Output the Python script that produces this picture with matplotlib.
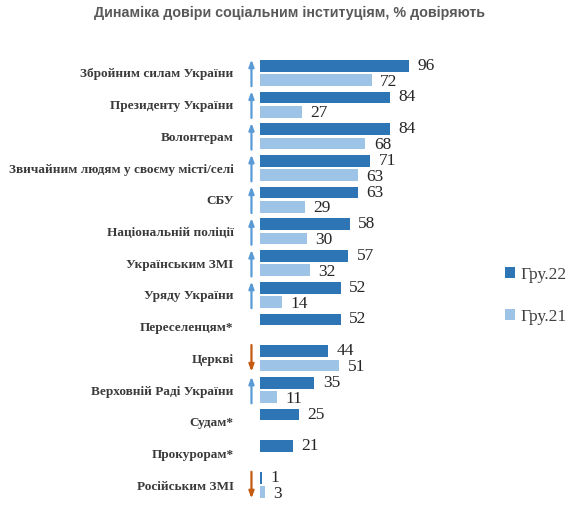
import matplotlib
matplotlib.use("Agg")
import matplotlib.pyplot as plt
from matplotlib.transforms import blended_transform_factory

categories = ["Збройним силам України", "Президенту України", "Волонтерам",
              "Звичайним людям у своєму місті/селі", "СБУ", "Національній поліції",
              "Українським ЗМІ", "Уряду України", "Переселенцям*", "Церкві",
              "Верховній Раді України", "Судам*", "Прокурорам*", "Російським ЗМІ"]
feb22 = [96, 84, 84, 71, 63, 58, 57, 52, 52, 44, 35, 25, 21, 1]
feb21 = [72, 27, 68, 63, 29, 30, 32, 14, None, 51, 11, None, None, 3]
trend = ["up", "up", "up", "up", "up", "up", "up", "up", None, "down", "up", None, None, "down"]
series_names = ["Гру.22", "Гру.21"]
title = "Динаміка довіри соціальним інституціям, % довіряють"

c22 = "#2e75b6"
c21 = "#9dc3e6"
up_c = "#5b9bd5"
down_c = "#c55a11"
serif = "Liberation Serif"

fig = plt.figure(figsize=(5.76, 5.13), dpi=100)
ax = fig.add_axes([260/576, 1-501/513, 155/576, 444/513])
ax.set_xlim(0, 100)
ax.set_ylim(len(categories) - 0.5, -0.5)

off = 0.225
h = 0.37
h22 = None
h21 = None
for i, (a, b) in enumerate(zip(feb22, feb21)):
    r = ax.barh(i - off, a, height=h, color=c22)
    h22 = r
    ax.text(a + 5.5, i - off, str(a), va="center", ha="left", fontsize=12.5,
            family=serif, color="#262626")
    if b is not None:
        r2 = ax.barh(i + off, b, height=h, color=c21)
        h21 = r2
        ax.text(b + 5.5, i + off + 0.05, str(b), va="center", ha="left", fontsize=12.5,
                family=serif, color="#262626")

trans = blended_transform_factory(ax.transAxes, ax.transData)
for i, t in enumerate(trend):
    if t is None:
        continue
    if t == "up":
        start, end, col = i + 0.42, i - 0.42, up_c
    else:
        start, end, col = i - 0.42, i + 0.42, down_c
    ax.annotate("", xy=(-0.055, end), xytext=(-0.055, start),
                xycoords=trans, textcoords=trans,
                arrowprops=dict(arrowstyle="-|>,head_length=0.4,head_width=0.15",
                                color=col, lw=1.6, shrinkA=0, shrinkB=0))

ax.set_yticks(range(len(categories)))
ax.set_yticklabels(categories, family=serif, fontweight="bold", fontsize=9.5, color="#3a3a3a")
ax.tick_params(axis="y", length=0, pad=19)
ax.set_xticks([])
for s in ax.spines.values():
    s.set_visible(False)

fig.text(0.503, 1-13/513, title, ha="center", va="center", fontsize=10.3,
         fontweight="bold", family="Liberation Sans", color="#595959")

leg = ax.legend([h22, h21], series_names, loc="center left",
                bbox_to_anchor=(489/576, 1-296/513), bbox_transform=fig.transFigure,
                frameon=False, handlelength=0.6, handleheight=0.6, handletextpad=0.3,
                labelspacing=1.5, prop={"family": serif, "size": 12.5})
for t in leg.get_texts():
    t.set_color("#404040")

fig.savefig("out.png", dpi=100)
